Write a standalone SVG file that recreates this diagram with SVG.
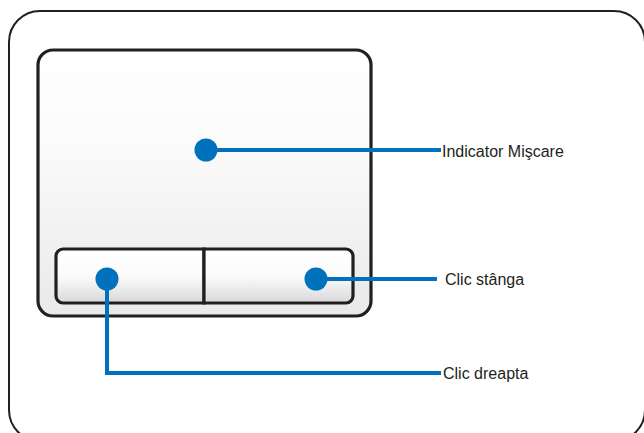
<svg xmlns="http://www.w3.org/2000/svg" width="644" height="433" viewBox="0 0 644 433">
<defs>
<linearGradient id="padGrad" x1="0" y1="0" x2="0" y2="1">
<stop offset="0" stop-color="#ffffff"/>
<stop offset="0.35" stop-color="#fbfbfb"/>
<stop offset="1" stop-color="#e9e9ea"/>
</linearGradient>
<linearGradient id="btnGrad" x1="0" y1="0" x2="0" y2="1">
<stop offset="0" stop-color="#ffffff"/>
<stop offset="0.5" stop-color="#fbfbfb"/>
<stop offset="1" stop-color="#d9d9db"/>
</linearGradient>
</defs>
<style>
.frame{fill:#ffffff;stroke:#231f20;stroke-width:2}
.pad{fill:url(#padGrad);stroke:#231f20;stroke-width:3.2}
.btn{fill:url(#btnGrad);stroke:#231f20;stroke-width:3.2}
.lead{fill:none;stroke:#0071bc;stroke-width:4}
.dot{fill:#0071bc}
.lbl{font-family:"Liberation Sans",Arial,sans-serif;font-size:16px;fill:#231f20}
</style>
<g id="frame"><rect class="frame" x="9" y="11" width="636" height="430" rx="31"/></g>
<g id="touchpad"><rect class="pad" x="38" y="50" width="333" height="266" rx="15"/></g>
<g id="left-button"><path class="btn" d="M204,249 H63 a7,7 0 0 0 -7,7 V296 a7,7 0 0 0 7,7 H204 Z"/></g>
<g id="right-button"><path class="btn" d="M204,249 H346 a7,7 0 0 1 7,7 V296 a7,7 0 0 1 -7,7 H204 Z"/></g>
<g id="connectors">
<path class="lead" d="M206,150 H441"/>
<path class="lead" d="M316,279 H437"/>
<path class="lead" d="M107,279 V373 H441"/>
</g>
<g id="dot-move"><circle class="dot" cx="206" cy="150" r="11.5"/></g>
<g id="dot-right"><circle class="dot" cx="316" cy="279" r="11.5"/></g>
<g id="dot-left"><circle class="dot" cx="107" cy="279" r="11.5"/></g>
<g id="label-move"><text class="lbl" x="442" y="157">Indicator Mişcare</text></g>
<g id="label-right"><text class="lbl" x="445" y="285">Clic stânga</text></g>
<g id="label-left"><text class="lbl" x="443" y="379">Clic dreapta</text></g>
</svg>
